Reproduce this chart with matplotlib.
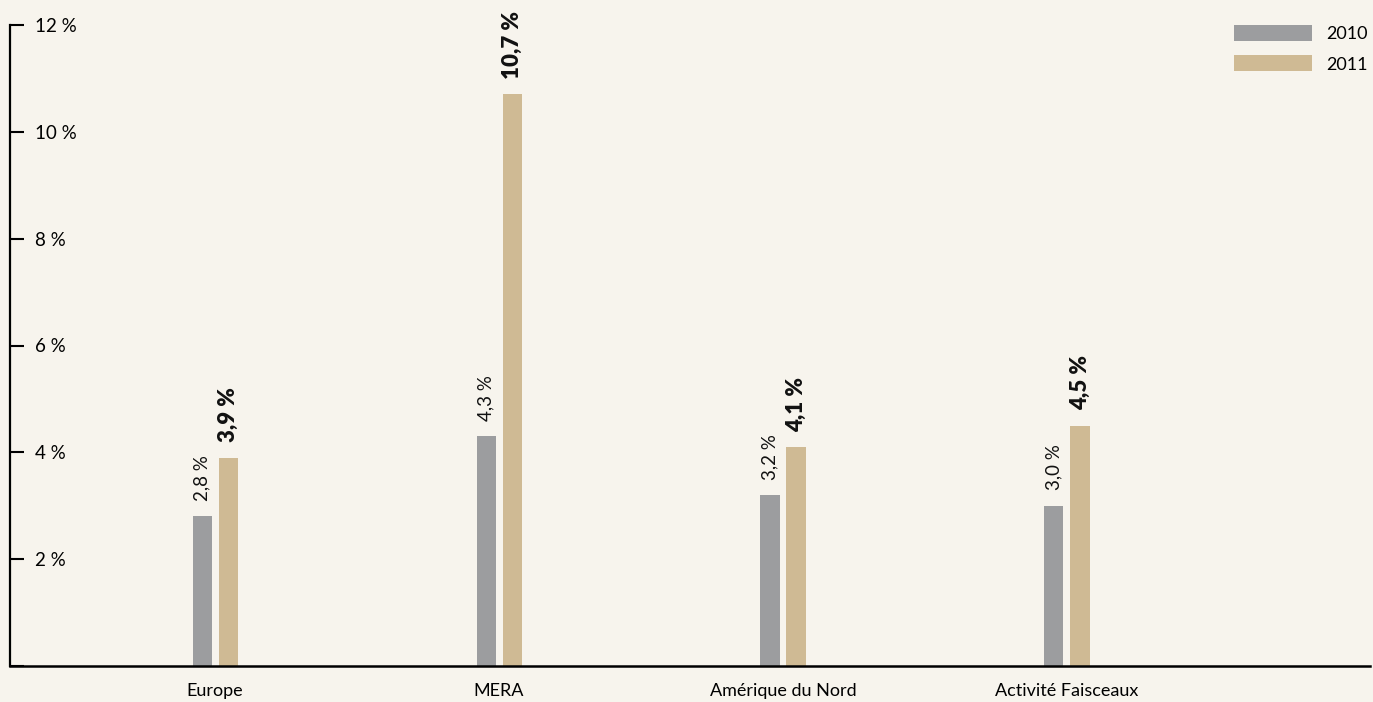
import matplotlib
matplotlib.use("Agg")
import matplotlib.pyplot as plt
import numpy as np
from matplotlib.patches import Patch

categories = ["Europe", "MERA", "Amérique du Nord", "Activité Faisceaux"]
values_2010 = [2.8, 4.3, 3.2, 3.0]
values_2011 = [3.9, 10.7, 4.1, 4.5]
labels_2010 = ["2,8 %", "4,3 %", "3,2 %", "3,0 %"]
labels_2011 = ["3,9 %", "10,7 %", "4,1 %", "4,5 %"]
yticks = [2, 4, 6, 8, 10, 12]
ytick_labels = ["2 %", "4 %", "6 %", "8 %", "10 %", "12 %"]
series_names = ["2010", "2011"]

bg = "#f7f4ed"
c2010 = "#9c9d9f"
c2011 = "#cfba94"

plt.rcParams['font.family'] = ['Lato', 'DejaVu Sans']

W, H = 1373, 702
fig = plt.figure(figsize=(W / 100, H / 100), dpi=100, facecolor=bg)
ax = fig.add_axes([10 / W, (H - 666) / H, 1360 / W, (666 - 25) / H], facecolor=bg)

x = np.arange(len(categories))
bw = 0.067
off = 0.0458
ax.bar(x - off, values_2010, bw, color=c2010)
ax.bar(x + off, values_2011, bw, color=c2011)

for xi, v, lab in zip(x - off, values_2010, labels_2010):
    ax.annotate(lab, (xi, v), xytext=(0, 11), textcoords="offset points",
                rotation=90, ha="center", va="bottom", fontsize=13.5, color="#111111")
for xi, v, lab in zip(x + off, values_2011, labels_2011):
    ax.annotate(lab, (xi, v), xytext=(0, 11), textcoords="offset points",
                rotation=90, ha="center", va="bottom", fontsize=16,
                fontweight="heavy", color="#111111")

ax.set_xlim(-0.722, 4.067)
ax.set_ylim(0, 12)

for s in ["top", "right"]:
    ax.spines[s].set_visible(False)
ax.spines["left"].set_linewidth(1.6)
ax.spines["bottom"].set_linewidth(1.8)

ax.set_yticks([0] + yticks)
ax.set_yticklabels([""] + ytick_labels)
ax.tick_params(axis="y", direction="in", length=10, width=1.5, pad=-18, labelsize=13.5)
for lab in ax.get_yticklabels():
    lab.set_horizontalalignment("left")

ax.set_xticks(x)
ax.set_xticklabels(categories)
ax.tick_params(axis="x", length=0, pad=12, labelsize=13)

handles = [Patch(facecolor=c2010, edgecolor="none"), Patch(facecolor=c2011, edgecolor="none")]
ax.legend(handles, series_names, loc="upper right",
          bbox_to_anchor=(1368 / W, (H - 25) / H),
          bbox_transform=fig.transFigure, frameon=False, fontsize=13,
          handlelength=4.3, handleheight=1.0, labelspacing=0.72, handletextpad=0.8,
          borderaxespad=0, borderpad=0)

fig.savefig("out.png", dpi=100, facecolor=bg)
